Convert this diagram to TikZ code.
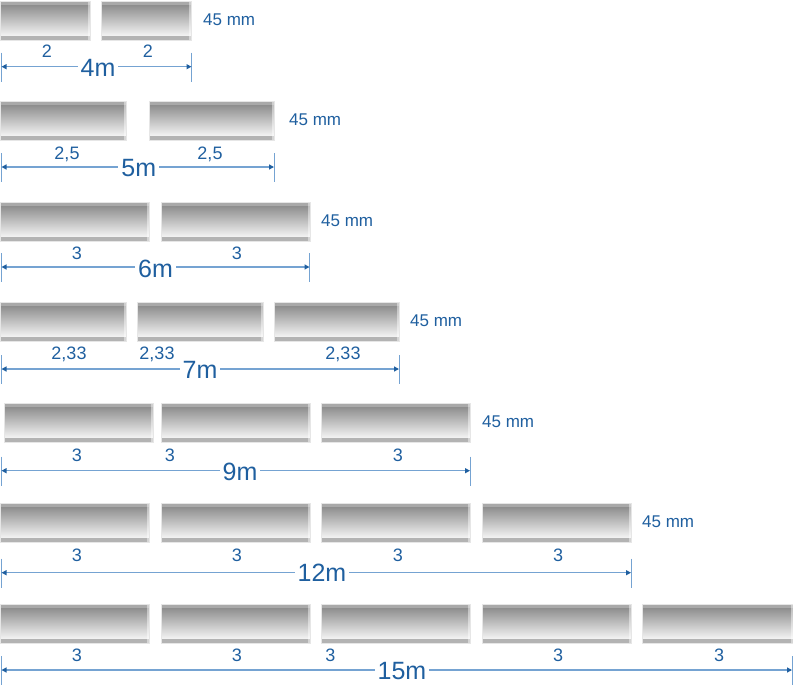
\documentclass[tikz,border=0pt]{standalone}
\usepackage{fontspec}
\setmainfont{Liberation Sans}
\usetikzlibrary{arrows.meta,calc}
\definecolor{txtblue}{HTML}{1F5F9F}
\definecolor{dimblue}{HTML}{75A3D2}
\definecolor{tipblue}{HTML}{1F5FA0}
\definecolor{barrim}{HTML}{E6E6E6}
\definecolor{bartopc}{HTML}{A9A9A9}
\definecolor{bardark}{HTML}{8E8E8E}
\definecolor{barlight}{HTML}{F3F3F3}
\definecolor{barbotc}{HTML}{B3B3B3}
\begin{document}
\begin{tikzpicture}[x=1pt,y=-1pt,
  barbox/.style={rectangle, anchor=north west, inner sep=0pt, outer sep=0pt,
    minimum height=39pt, draw=barrim, line width=0.8pt,
    path picture={
      \path (path picture bounding box.north west) coordinate (pa)
            (path picture bounding box.south east) coordinate (pb);
      \fill[bartopc] (pa) rectangle ($(pa -| pb)+(0,4)$);
      \shade[top color=bardark, bottom color=barlight] ($(pa)+(0,4)$) rectangle ($(pb)+(0,-4.5)$);
      \fill[white!92!black] ($(pb -| pa)+(0,-4.5)$) rectangle ($(pb)+(0,-3.6)$);
      \fill[barbotc] ($(pb -| pa)+(0,-3.6)$) rectangle (pb);
      \fill[white,opacity=0.45] ($(pb)+(-2,0)$) rectangle (pa -| pb);
    }},
  seglabel/.style={anchor=base, text=txtblue, font=\fontsize{18}{20}\selectfont, inner sep=0pt},
  sizelabel/.style={anchor=west, text=txtblue, font=\fontsize{17}{20}\selectfont, inner sep=0pt},
  totallabel/.style={anchor=center, fill=white, text=txtblue, font=\fontsize{25}{28}\selectfont, inner xsep=3pt, inner ysep=0pt},
  dimline/.style={draw=dimblue, line width=1.2pt,
    {Triangle[length=5pt,width=5pt,color=tipblue]}-{Triangle[length=5pt,width=5pt,color=tipblue]}},
  tickline/.style={draw=dimblue, line width=0.9pt}
]
\useasboundingbox (0,0) rectangle (793,688);

% bars
\foreach \n/\a/\b/\y in {
  r1b1/0/90/1, r1b2/101/191/1,
  r2b1/0/126/101, r2b2/149/274/101,
  r3b1/0/149/202, r3b2/161/310/202,
  r4b1/0/126/302, r4b2/137/263/302, r4b3/274/399/302,
  r5b1/4/153/403, r5b2/161/310/403, r5b3/321/470/403,
  r6b1/0/149/503, r6b2/161/310/503, r6b3/321/470/503, r6b4/482/631/503,
  r7b1/0/149/604, r7b2/161/310/604, r7b3/321/470/604, r7b4/482/631/604, r7b5/642/793/604}
  \node[barbox, minimum width={\b-\a}] (\n) at (\a,\y) {};

% thickness labels
\node[sizelabel] (t1) at (203,19.3) {45 mm};
\node[sizelabel] (t2) at (289,119.7) {45 mm};
\node[sizelabel] (t3) at (321,220.3) {45 mm};
\node[sizelabel] (t4) at (410,320.3) {45 mm};
\node[sizelabel] (t5) at (482,421.7) {45 mm};
\node[sizelabel] (t6) at (642,522) {45 mm};

% segment labels
\foreach \n/\x/\y/\t in {
  s11/47/57.3/2, s12/148/57.3/2,
  s21/67/159.3/{2,5}, s22/210/159.3/{2,5},
  s31/77/259.3/3, s32/237/259.3/3,
  s41/69/359.3/{2,33}, s42/157/359.3/{2,33}, s43/343/359.3/{2,33},
  s51/77/461/3, s52/170/461/3, s53/398/461/3,
  s61/77/561/3, s62/237/561/3, s63/398/561/3, s64/558/561/3,
  s71/77/661/3, s72/237/661/3, s73/330.5/661/3, s74/558/661/3, s75/719/661/3}
  \node[seglabel] (\n) at (\x,\y) {\t};

% dimension lines
\foreach \i/\r/\y/\tx/\ty/\t in {
  1/191.5/66.7/98/67.5/4m,
  2/274/167/138.8/167.8/5m,
  3/309.5/267/155.5/268.5/6m,
  4/399/369/200/369.5/7m,
  5/470/470.7/240/471.5/9m,
  6/631/572.7/322/573/12m,
  7/792/670/402/671/15m}
{
  \coordinate (d\i l) at (1.5,\y);
  \coordinate (d\i r) at (\r,\y);
  \draw[tickline] ([yshift=14pt]d\i l) -- ([yshift=-15pt]d\i l);
  \draw[tickline] ([yshift=14pt]d\i r) -- ([yshift=-15pt]d\i r);
  \draw[dimline] (d\i l) -- (d\i r);
  \node[totallabel] (tot\i) at (\tx,\ty) {\t};
}
\end{tikzpicture}
\end{document}
